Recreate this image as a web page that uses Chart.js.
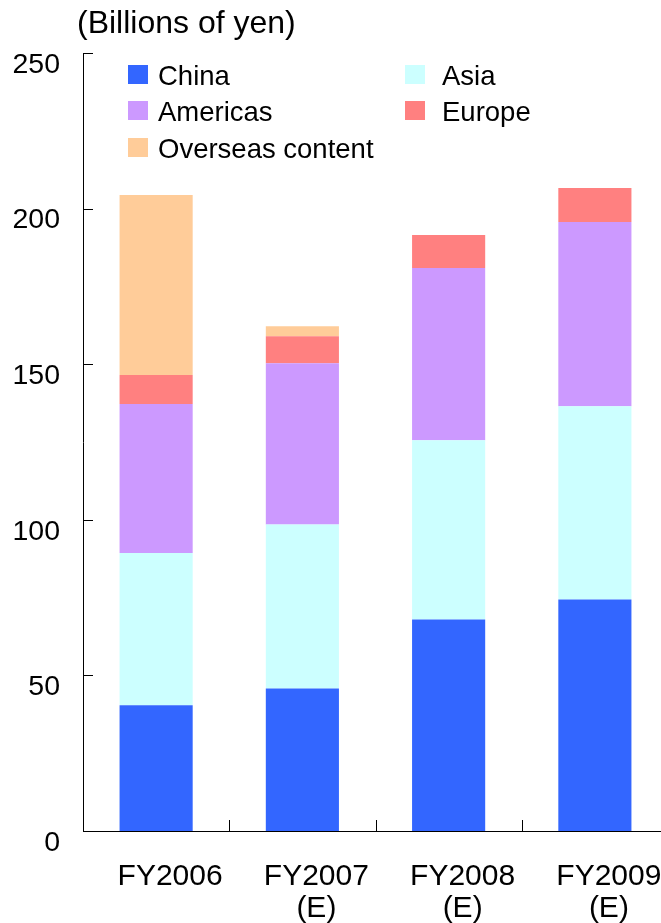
<!DOCTYPE html>
<html>
<head>
<meta charset="utf-8">
<script src="https://cdn.jsdelivr.net/npm/chart.js@4.4.1/dist/chart.umd.min.js"></script>
<style>
  html, body { margin: 0; padding: 0; background: #fff; overflow: hidden; }
  #wrap { width: 668px; height: 923px; }
</style>
</head>
<body>
<div id="wrap"><canvas id="salesChart" width="668" height="923"></canvas></div>
<script>
// fiscal years (E = estimate)
const years = [['FY2006'], ['FY2007', '(E)'], ['FY2008', '(E)'], ['FY2009', '(E)']];

// billions of yen, stacked bottom to top
const china = [40.4, 45.8, 68.0, 74.4];
const asia = [48.9, 52.7, 57.6, 62.1];
const americas = [47.9, 51.8, 55.3, 59.2];
const europe = [9.3, 8.7, 10.6, 10.9];
const overseasContent = [57.9, 3.2, 0, 0];

const yTicks = [0, 50, 100, 150, 200, 250];

const FONT = '"Liberation Sans", Arial, sans-serif';

// unit caption, inward tick marks and the two-column legend
const extras = {
  id: 'extras',
  afterDraw(chart) {
    const { ctx, chartArea, scales: { x, y } } = chart;
    ctx.save();
    ctx.strokeStyle = '#000';
    ctx.lineWidth = 1;
    ctx.beginPath();
    y.ticks.forEach((t, i) => {
      const py = Math.round(y.getPixelForTick(i)) + 0.5;
      ctx.moveTo(chartArea.left, py);
      ctx.lineTo(chartArea.left + 10, py);
    });
    for (let i = 1; i < x.ticks.length; i++) {
      const px = Math.round((x.getPixelForTick(i - 1) + x.getPixelForTick(i)) / 2) + 0.5;
      ctx.moveTo(px, chartArea.bottom);
      ctx.lineTo(px, chartArea.bottom - 11);
    }
    ctx.stroke();

    ctx.fillStyle = '#000';
    ctx.font = '32px ' + FONT;
    ctx.textBaseline = 'middle';
    ctx.fillText('(Billions of yen)', chartArea.left - 6, 24);

    ctx.font = '27.5px ' + FONT;
    const colX = [45, 322];
    const textGap = [30, 37];
    const rowY = [21, 57, 94];
    chart.data.datasets.forEach((ds, i) => {
      const col = i % 2;
      const bx = chartArea.left + colX[col];
      const cy = chartArea.top + rowY[Math.floor(i / 2)];
      ctx.fillStyle = ds.backgroundColor;
      ctx.fillRect(bx, cy - 9, 20, 19);
      ctx.fillStyle = '#000';
      ctx.fillText(ds.label, bx + textGap[col], cy + 3);
    });
    ctx.restore();
  }
};

new Chart(document.getElementById('salesChart'), {
  type: 'bar',
  data: {
    labels: years,
    datasets: [
      { label: 'China', data: china, backgroundColor: '#3366FF' },
      { label: 'Asia', data: asia, backgroundColor: '#CCFFFF' },
      { label: 'Americas', data: americas, backgroundColor: '#CC99FF' },
      { label: 'Europe', data: europe, backgroundColor: '#FF8080' },
      { label: 'Overseas content', data: overseasContent, backgroundColor: '#FFCC99' },
    ],
  },
  options: {
    responsive: false,
    animation: false,
    layout: { padding: { top: 53, left: 0, right: 0, bottom: 0 } },
    datasets: { bar: { barPercentage: 0.5, categoryPercentage: 1, borderWidth: 0 } },
    plugins: {
      legend: { display: false },
      tooltip: { enabled: false },
    },
    scales: {
      x: {
        stacked: true,
        grid: { display: false, drawTicks: false },
        border: { display: true, color: '#000', width: 1 },
        ticks: {
          color: '#000',
          font: { family: FONT, size: 30, lineHeight: 1.07 },
          padding: 30,
          labelOffset: 14,
          maxRotation: 0,
          autoSkip: false,
        },
        afterFit(scale) {
          scale.height = 92;
          scale.paddingLeft = 0;
          scale.paddingRight = 0;
        },
      },
      y: {
        stacked: true,
        min: 0,
        max: 250,
        afterBuildTicks(scale) { scale.ticks = yTicks.map(v => ({ value: v })); },
        grid: { display: false, drawTicks: false },
        border: { display: true, color: '#000', width: 1 },
        ticks: {
          color: '#000',
          font: { family: FONT, size: 28.5 },
          padding: 23,
          labelOffset: 12,
        },
        afterFit(scale) { scale.width = 83; },
      },
    },
  },
  plugins: [extras],
});
</script>
</body>
</html>
